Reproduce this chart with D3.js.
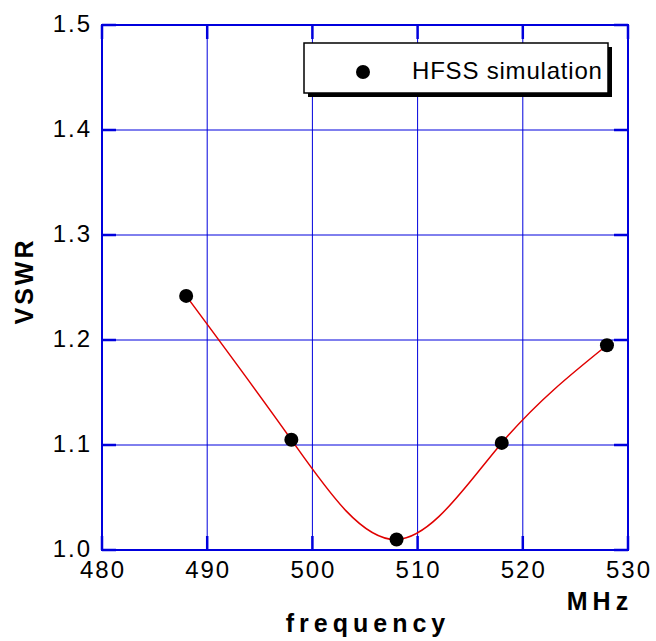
<!DOCTYPE html>
<html>
<head>
<meta charset="utf-8">
<script src="https://cdn.jsdelivr.net/npm/d3@7"></script>
<style>
  body { margin: 0; background: #fff; }
  svg { font-family: "Liberation Sans", Arial, sans-serif; }
  .tick-label { font-size: 24px; fill: #000; letter-spacing: 2px; }
  .axis-title { font-size: 25px; font-weight: bold; fill: #000; }
</style>
</head>
<body>
<script>
// Data
const frequency = [488, 498, 508, 518, 528];
const vswr = [1.242, 1.105, 1.010, 1.102, 1.195];
const xTicks = [480, 490, 500, 510, 520, 530];
const yTicks = [1.0, 1.1, 1.2, 1.3, 1.4, 1.5];
const seriesName = "HFSS simulation";

// Chart dimensions
const width = 656;
const height = 641;
const margin = { top: 25, right: 28, bottom: 91, left: 102 };

const svg = d3.select("body")
    .append("svg")
    .attr("width", width)
    .attr("height", height);

const xScale = d3.scaleLinear()
    .domain([480, 530])
    .range([margin.left, width - margin.right]);

const yScale = d3.scaleLinear()
    .domain([1.0, 1.5])
    .range([height - margin.bottom, margin.top]);

const blue = "#0000dd";

// Grid lines
svg.append("g")
    .selectAll("line")
    .data(xTicks)
    .join("line")
    .attr("x1", d => xScale(d))
    .attr("x2", d => xScale(d))
    .attr("y1", yScale(1.0))
    .attr("y2", yScale(1.5))
    .attr("stroke", blue)
    .attr("stroke-width", 1);

svg.append("g")
    .selectAll("line")
    .data(yTicks)
    .join("line")
    .attr("x1", xScale(480))
    .attr("x2", xScale(530))
    .attr("y1", d => yScale(d))
    .attr("y2", d => yScale(d))
    .attr("stroke", blue)
    .attr("stroke-width", 1);

// Frame
svg.append("rect")
    .attr("x", xScale(480))
    .attr("y", yScale(1.5))
    .attr("width", xScale(530) - xScale(480))
    .attr("height", yScale(1.0) - yScale(1.5))
    .attr("fill", "none")
    .attr("stroke", blue)
    .attr("stroke-width", 2);

// Inward tick marks on all four sides
const tickLen = 14;
const ticks = svg.append("g").attr("stroke", blue).attr("stroke-width", 2.5);
xTicks.forEach(t => {
    ticks.append("line")
        .attr("x1", xScale(t)).attr("x2", xScale(t))
        .attr("y1", yScale(1.0)).attr("y2", yScale(1.0) - tickLen);
    ticks.append("line")
        .attr("x1", xScale(t)).attr("x2", xScale(t))
        .attr("y1", yScale(1.5)).attr("y2", yScale(1.5) + tickLen);
});
yTicks.forEach(t => {
    ticks.append("line")
        .attr("x1", xScale(480)).attr("x2", xScale(480) + tickLen)
        .attr("y1", yScale(t)).attr("y2", yScale(t));
    ticks.append("line")
        .attr("x1", xScale(530)).attr("x2", xScale(530) - tickLen)
        .attr("y1", yScale(t)).attr("y2", yScale(t));
});

// Tick labels
svg.append("g")
    .selectAll("text")
    .data(xTicks)
    .join("text")
    .attr("class", "tick-label")
    .attr("x", d => xScale(d) + 1)
    .attr("y", yScale(1.0) + 28)
    .attr("text-anchor", "middle")
    .text(d => d);

svg.append("g")
    .selectAll("text")
    .data(yTicks)
    .join("text")
    .attr("class", "tick-label")
    .attr("x", xScale(480) - 10)
    .attr("y", d => yScale(d) + 7)
    .attr("text-anchor", "end")
    .text(d => d.toFixed(1));

// Fitted curve
svg.append("path")
    .datum(frequency.map((f, i) => [f, vswr[i]]))
    .attr("fill", "none")
    .attr("stroke", "#e00000")
    .attr("stroke-width", 1.5)
    .attr("d", d3.line()
        .x(d => xScale(d[0]))
        .y(d => yScale(d[1]))
        .curve(d3.curveNatural));

// Data points
svg.append("g")
    .selectAll("circle")
    .data(frequency)
    .join("circle")
    .attr("cx", d => xScale(d))
    .attr("cy", (d, i) => yScale(vswr[i]))
    .attr("r", 7)
    .attr("fill", "#000");

// Legend with drop shadow
const legend = svg.append("g").attr("transform", "translate(304, 43)");
legend.append("rect")
    .attr("x", 4).attr("y", 4)
    .attr("width", 304).attr("height", 50)
    .attr("fill", "#000");
legend.append("rect")
    .attr("width", 304).attr("height", 50)
    .attr("fill", "#fff")
    .attr("stroke", "#000")
    .attr("stroke-width", 1.5);
legend.append("circle")
    .attr("cx", 59).attr("cy", 29)
    .attr("r", 7)
    .attr("fill", "#000");
legend.append("text")
    .attr("x", 108).attr("y", 36)
    .attr("font-size", 24)
    .attr("letter-spacing", 0.8)
    .text(seriesName);

// Axis titles
svg.append("text")
    .attr("class", "axis-title")
    .attr("x", 600)
    .attr("y", 610)
    .attr("text-anchor", "middle")
    .attr("letter-spacing", 5)
    .text("MHz");

svg.append("text")
    .attr("class", "axis-title")
    .attr("x", 368)
    .attr("y", 632)
    .attr("text-anchor", "middle")
    .attr("letter-spacing", 5)
    .text("frequency");

svg.append("text")
    .attr("class", "axis-title")
    .attr("transform", "rotate(-90)")
    .attr("x", -281)
    .attr("y", 33)
    .attr("text-anchor", "middle")
    .attr("letter-spacing", 3)
    .text("VSWR");
</script>
</body>
</html>
